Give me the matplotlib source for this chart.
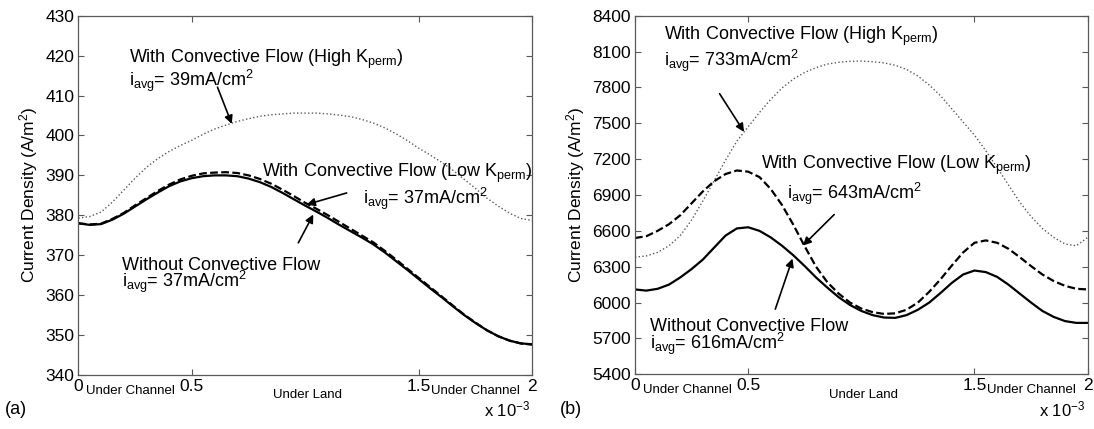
import numpy as np
import matplotlib
matplotlib.use('Agg')
import matplotlib.pyplot as plt
from matplotlib.transforms import blended_transform_factory

plt.rcParams['font.family'] = ['Liberation Sans', 'DejaVu Sans']
plt.rcParams['mathtext.fontset'] = 'custom'
plt.rcParams['mathtext.rm'] = 'Liberation Sans'
plt.rcParams['mathtext.it'] = 'Liberation Sans:italic'

# position along the cell, in 1e-3 m
x_mm = [0.00, 0.05, 0.10, 0.15, 0.20, 0.25, 0.30, 0.35, 0.40, 0.45,
        0.50, 0.55, 0.60, 0.65, 0.70, 0.75, 0.80, 0.85, 0.90, 0.95,
        1.00, 1.05, 1.10, 1.15, 1.20, 1.25, 1.30, 1.35, 1.40, 1.45,
        1.50, 1.55, 1.60, 1.65, 1.70, 1.75, 1.80, 1.85, 1.90, 1.95, 2.00]

# panel (a), A/m^2
a_without = [378.0, 377.6, 377.8, 378.9, 380.4, 382.2, 384.0, 385.7, 387.3, 388.5,
             389.3, 389.8, 390.0, 390.0, 389.8, 389.2, 388.3, 387.1, 385.6, 384.0,
             382.4, 380.9, 379.3, 377.6, 376.0, 374.4, 372.7, 370.7, 368.5, 366.3,
             364.0, 361.7, 359.5, 357.2, 355.0, 353.0, 351.2, 349.7, 348.6, 347.9, 347.7]
a_low = [378.0, 377.7, 377.9, 379.1, 380.6, 382.5, 384.3, 386.1, 387.7, 389.0,
         389.9, 390.5, 390.7, 390.8, 390.6, 390.0, 389.1, 387.9, 386.4, 384.8,
         383.1, 381.6, 380.0, 378.3, 376.6, 374.9, 373.2, 371.1, 368.9, 366.6,
         364.3, 362.0, 359.7, 357.4, 355.1, 353.1, 351.2, 349.7, 348.6, 347.9, 347.6]
a_high = [379.3, 379.7, 380.8, 383.3, 386.3, 389.3, 392.0, 394.2, 396.0, 397.5,
          398.8, 400.3, 401.6, 402.6, 403.5, 404.2, 404.8, 405.2, 405.4, 405.6,
          405.6, 405.6, 405.4, 405.1, 404.7, 404.0, 403.1, 401.9, 400.4, 398.7,
          396.8, 395.1, 393.3, 391.3, 389.0, 386.7, 384.3, 382.3, 380.5, 379.2, 378.7]

# panel (b), A/m^2
b_without = [6110, 6100, 6115, 6150, 6210, 6280, 6360, 6460, 6560, 6620,
             6630, 6600, 6545, 6475, 6395, 6305, 6210, 6125, 6045, 5980,
             5930, 5895, 5875, 5872, 5895, 5940, 6000, 6080, 6165, 6235,
             6268, 6255, 6215, 6150, 6075, 6000, 5930, 5880, 5845, 5830, 5830]
b_low = [6540, 6555, 6600, 6655, 6730, 6830, 6930, 7015, 7075, 7105,
         7095, 7050, 6950, 6815, 6650, 6470, 6300, 6170, 6075, 6000,
         5950, 5920, 5905, 5910, 5940, 6000, 6090, 6195, 6310, 6420,
         6500, 6520, 6500, 6450, 6380, 6305, 6235, 6180, 6140, 6115, 6110]
b_high = [6380, 6390, 6420, 6475, 6560, 6690, 6850, 7020, 7190, 7350,
          7470, 7590, 7700, 7795, 7870, 7925, 7965, 7995, 8010, 8018,
          8020, 8015, 8005, 7985, 7950, 7895, 7820, 7730, 7620, 7510,
          7400, 7270, 7130, 6985, 6840, 6720, 6620, 6545, 6490, 6475, 6545]

xticks_mm = [0, 0.5, 1.5, 2]
xtick_labels = ['0', '0.5', '1.5', '2']
a_yticks = [340, 350, 360, 370, 380, 390, 400, 410, 420, 430]
b_yticks = [5400, 5700, 6000, 6300, 6600, 6900, 7200, 7500, 7800, 8100, 8400]

x = np.array(x_mm) * 1e-3

fig = plt.figure(figsize=(10.94, 4.29), dpi=100)
ax_a = fig.add_axes([0.0716, 0.1259, 0.415, 0.8375])
ax_b = fig.add_axes([0.5804, 0.1275, 0.4138, 0.836])

spine_col = '0.35'


def style(ax, yticks):
    ax.set_xlim(0, 2e-3)
    ax.set_ylim(yticks[0], yticks[-1])
    ax.set_yticks(yticks)
    ax.set_xticks(np.array(xticks_mm) * 1e-3)
    ax.set_xticklabels(xtick_labels)
    ax.tick_params(direction='in', length=4, width=0.8, color=spine_col,
                   labelsize=12.5, top=True, right=True, pad=3)
    for s in ax.spines.values():
        s.set_color(spine_col)
        s.set_linewidth(0.9)
    ax.set_ylabel('Current Density (A/m$^2$)', fontsize=12.5, labelpad=4)
    tr = blended_transform_factory(ax.transData, ax.transAxes)
    ax.text(0.23e-3, -0.028, 'Under Channel', transform=tr, ha='center',
            va='top', fontsize=9.5)
    ax.text(1.01e-3, -0.04, 'Under Land', transform=tr, ha='center',
            va='top', fontsize=9.5)
    ax.text(1.75e-3, -0.028, 'Under Channel', transform=tr, ha='center',
            va='top', fontsize=9.5)
    ax.text(0.995, -0.097, 'x 10$^{-3}$', transform=ax.transAxes, ha='right',
            va='center', fontsize=12)


def note(ax, txt, xm, y):
    ax.text(xm * 1e-3, y, txt, fontsize=13, ha='left', va='baseline')


def arrow(ax, tail, head):
    ax.annotate('', xy=(head[0] * 1e-3, head[1]), xytext=(tail[0] * 1e-3, tail[1]),
                arrowprops=dict(arrowstyle='-|>', color='k', lw=1.2,
                                mutation_scale=12, shrinkA=0, shrinkB=0))


# (a)
ax_a.plot(x, a_high, color='0.35', ls=':', lw=1.0)
ax_a.plot(x, a_low, color='k', ls='--', lw=1.6, dashes=(3.5, 1.5))
ax_a.plot(x, a_without, color='k', ls='-', lw=1.6)
style(ax_a, a_yticks)
note(ax_a, r'With Convective Flow (High K$_{\mathrm{perm}}$)', 0.225, 418.1)
note(ax_a, r'i$_{\mathrm{avg}}$= 39mA/cm$^2$', 0.225, 412.4)
arrow(ax_a, (0.613, 412.1), (0.676, 402.9))
note(ax_a, r'With Convective Flow (Low K$_{\mathrm{perm}}$)', 0.808, 389.5)
note(ax_a, r'i$_{\mathrm{avg}}$= 37mA/cm$^2$', 1.256, 382.8)
arrow(ax_a, (1.182, 385.6), (1.006, 382.7))
note(ax_a, 'Without Convective Flow', 0.192, 366.2)
note(ax_a, r'i$_{\mathrm{avg}}$= 37mA/cm$^2$', 0.192, 362.0)
arrow(ax_a, (0.969, 373.1), (1.035, 380.2))

# (b)
ax_b.plot(x, b_high, color='0.35', ls=':', lw=1.0)
ax_b.plot(x, b_low, color='k', ls='--', lw=1.6, dashes=(3.5, 1.5))
ax_b.plot(x, b_without, color='k', ls='-', lw=1.6)
style(ax_b, b_yticks)
note(ax_b, r'With Convective Flow (High K$_{\mathrm{perm}}$)', 0.129, 8197)
note(ax_b, r'i$_{\mathrm{avg}}$= 733mA/cm$^2$', 0.129, 7980)
arrow(ax_b, (0.374, 7747), (0.482, 7428))
note(ax_b, r'With Convective Flow (Low K$_{\mathrm{perm}}$)', 0.558, 7114)
note(ax_b, r'i$_{\mathrm{avg}}$= 643mA/cm$^2$', 0.673, 6864)
arrow(ax_b, (0.88, 6736), (0.742, 6477))
note(ax_b, 'Without Convective Flow', 0.068, 5759)
note(ax_b, r'i$_{\mathrm{avg}}$= 616mA/cm$^2$', 0.068, 5609)
arrow(ax_b, (0.62, 5945), (0.696, 6368))

fig.text(5 / 1094, 1 - 410 / 429, '(a)', fontsize=13, va='center', ha='left')
fig.text(560 / 1094, 1 - 410 / 429, '(b)', fontsize=13, va='center', ha='left')

fig.savefig('out.png', dpi=100)
